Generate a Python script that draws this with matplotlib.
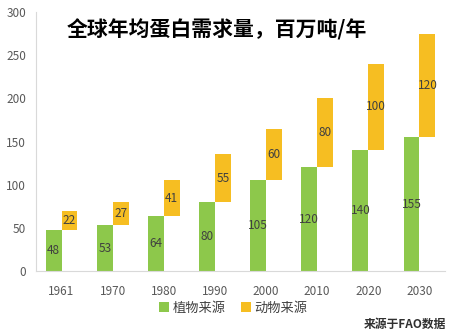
import matplotlib.pyplot as plt
import numpy as np

plt.rcParams['font.family'] = ['Noto Sans CJK SC', 'DejaVu Sans']

# 数据
years = ["1961", "1970", "1980", "1990", "2000", "2010", "2020", "2030"]
plant = [48, 53, 64, 80, 105, 120, 140, 155]
animal = [22, 27, 41, 55, 60, 80, 100, 120]

fig = plt.figure(figsize=(4.67, 3.33), dpi=100)
ax = fig.add_axes([0.077, 0.186, 0.876, 0.778])

x = np.arange(len(years))
w = 0.31
green = "#8DC84B"
yellow = "#F6BE22"

ax.bar(x - w / 2, plant, width=w, color=green, label="植物来源")
ax.bar(x + w / 2, animal, width=w, bottom=plant, color=yellow, label="动物来源")

# 数值标签
for i in range(len(years)):
    ax.text(x[i] - w / 2, plant[i] / 2, str(plant[i]), ha="center", va="center",
            fontsize=8.5, color="#404040")
    ax.text(x[i] + w / 2, plant[i] + animal[i] / 2, str(animal[i]), ha="center",
            va="center", fontsize=8.5, color="#404040")

ax.set_xlim(-0.5, len(years) - 0.5)
ax.set_ylim(0, 300)
ax.set_yticks(range(0, 301, 50))
ax.set_xticks(x)
ax.set_xticklabels(years)
ax.tick_params(axis="both", length=0, labelsize=8.5, colors="#595959")
ax.tick_params(axis="x", pad=10)
ax.tick_params(axis="y", pad=7)

for s in ["top", "right"]:
    ax.spines[s].set_visible(False)
ax.spines["left"].set_color("#D9D9D9")
ax.spines["bottom"].set_color("#D9D9D9")

ax.text(0.075, 0.93, "全球年均蛋白需求量，百万吨/年", transform=ax.transAxes,
        fontsize=15, fontweight="bold", color="black", va="center")

fig.legend(loc="center", bbox_to_anchor=(0.5, 0.075), ncol=2, frameon=False,
           fontsize=9.5, handlelength=0.7, handleheight=0.7, handletextpad=0.3,
           columnspacing=1.2, labelcolor="#404040")

fig.text(0.955, 0.025, "来源于FAO数据", ha="right", va="center", fontsize=8.5,
         fontweight="bold", style="italic", color="#303030")

fig.savefig("out.png", dpi=100)
